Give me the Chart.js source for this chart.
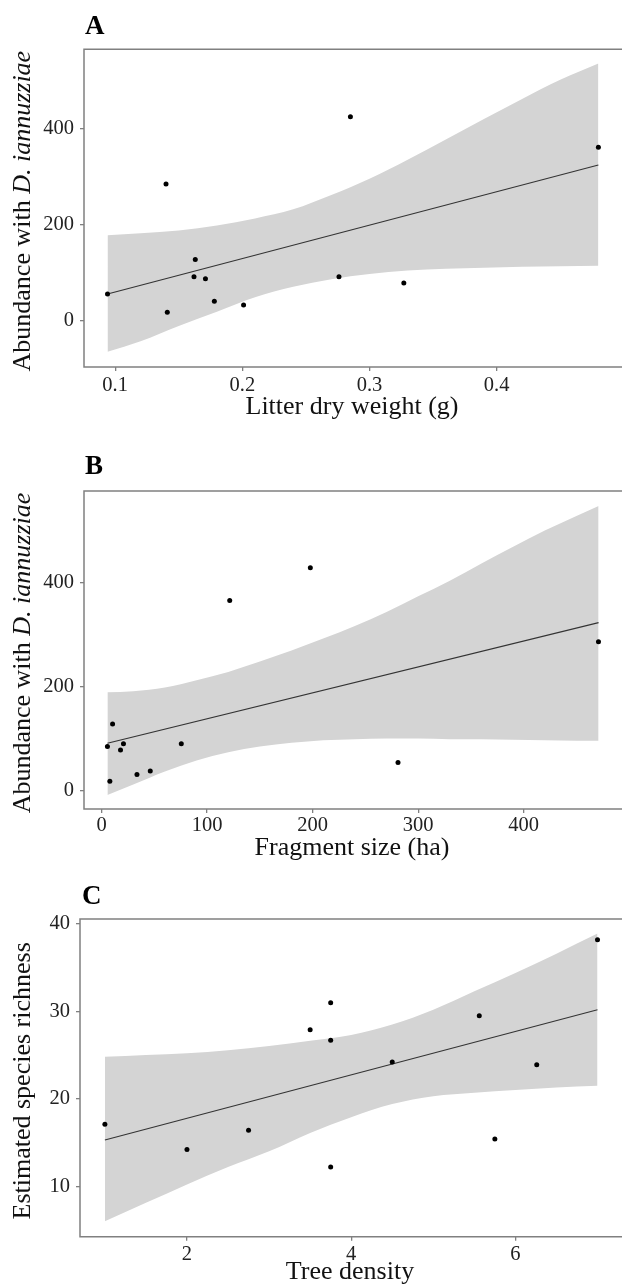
<!DOCTYPE html>
<html>
<head>
<meta charset="utf-8">
<script src="https://cdn.jsdelivr.net/npm/chart.js@4.4.1/dist/chart.umd.min.js"></script>
<style>
  body { margin: 0; background: #fff; }
  #wrap { position: relative; width: 624px; height: 1288px; overflow: hidden; background: #fff; }
  canvas { position: absolute; left: 0; }
  .tag { position: absolute; font: bold 27px "Liberation Serif", "Times New Roman", serif; line-height: 27px; color: #000; }
</style>
</head>
<body>
<div id="wrap">
  <canvas id="chartA" width="624" height="430" style="top:0px;width:624px;height:430px"></canvas>
  <canvas id="chartB" width="624" height="445" style="top:430px;width:624px;height:445px"></canvas>
  <canvas id="chartC" width="624" height="413" style="top:875px;width:624px;height:413px"></canvas>
  <div class="tag" style="left:85px;top:12px">A</div>
  <div class="tag" style="left:85px;top:452px">B</div>
  <div class="tag" style="left:82px;top:882px">C</div>
</div>
<script>
const FONT = '"Liberation Serif", "Times New Roman", serif';

// Panel A - litter dry weight
const litterWeight = [0.094, 0.140, 0.141, 0.162, 0.163, 0.171, 0.178, 0.201, 0.276, 0.285, 0.327, 0.480];
const abundanceA = [55, 285, 17, 91, 127, 87, 40, 32, 91, 426, 78, 362];
const fitA_x = [0.094, 0.48];
const fitA_y = [55, 325];
const bandA_x = [0.094, 0.12, 0.15, 0.18, 0.21, 0.24, 0.27, 0.30, 0.33, 0.36, 0.39, 0.42, 0.45, 0.48];
const bandA_hi = [178, 182, 188, 198, 213, 232, 262, 296, 336, 378, 421, 463, 503, 537];
const bandA_lo = [-66, -44, -12, 18, 48, 70, 86, 97, 104, 108, 110, 112, 113, 114];
const ticksA_x = [0.1, 0.2, 0.3, 0.4];
const labelsA_x = ['0.1', '0.2', '0.3', '0.4'];
const ticksA_y = [0, 200, 400];
const labelsA_y = ['0', '200', '400'];

// Panel B - fragment size
const fragmentSize = [5.5, 7.8, 10.4, 17.9, 20.7, 33.5, 46.1, 75.5, 121.4, 197.8, 280.9, 470.9];
const abundanceB = [85, 18, 128, 78, 90, 31, 38, 90, 365, 428, 54, 286];
const fitB_x = [5.5, 471];
const fitB_y = [91, 322.5];
const bandB_x = [5.5, 30, 60, 90, 120, 150, 180, 210, 240, 270, 300, 330, 360, 390, 420, 450, 471];
const bandB_hi = [189, 191, 198, 212, 228, 248, 269, 292, 316, 343, 373, 403, 436, 468, 499, 527, 546];
const bandB_lo = [-8, 12, 37, 58, 74, 85, 92, 97, 99, 100, 100, 99, 99, 98, 97, 96, 96];
const ticksB_x = [0, 100, 200, 300, 400];
const labelsB_x = ['0', '100', '200', '300', '400'];
const ticksB_y = [0, 200, 400];
const labelsB_y = ['0', '200', '400'];

// Panel C - tree density
const treeDensity = [1.0, 2.0, 2.75, 3.5, 3.75, 3.75, 3.75, 4.5, 5.56, 5.75, 6.26, 7.0];
const richness = [17.1, 14.2, 16.4, 27.9, 31.0, 26.7, 12.2, 24.2, 29.5, 15.4, 23.9, 38.2];
const fitC_x = [1.0, 7.0];
const fitC_y = [15.3, 30.2];
const bandC_x = [1.0, 1.5, 2.0, 2.5, 3.0, 3.5, 4.0, 4.5, 5.0, 5.5, 6.0, 6.5, 7.0];
const bandC_hi = [24.8, 25.0, 25.2, 25.55, 26.05, 26.65, 27.3, 28.5, 30.2, 32.3, 34.4, 36.6, 38.9];
const bandC_lo = [6.0, 8.1, 10.2, 12.2, 14.0, 16.1, 17.9, 19.4, 20.3, 20.7, 21.0, 21.3, 21.5];
const ticksC_x = [2, 4, 6];
const labelsC_x = ['2', '4', '6'];
const ticksC_y = [10, 20, 30, 40];
const labelsC_y = ['10', '20', '30', '40'];

function pts(xs, ys) {
  return xs.map((x, i) => ({ x: x, y: ys[i] }));
}

// plot frame (no right edge, it is cut by the picture) + y title with italic part
const frame = {
  id: 'frame',
  afterDraw(chart, args, opts) {
    const ctx = chart.ctx;
    const a = chart.chartArea;
    ctx.save();
    ctx.strokeStyle = '#808080';
    ctx.lineWidth = 1.5;
    ctx.beginPath();
    ctx.moveTo(a.right + 2, a.top);
    ctx.lineTo(a.left, a.top);
    ctx.lineTo(a.left, a.bottom);
    ctx.lineTo(a.right + 2, a.bottom);
    ctx.stroke();

    const parts = opts.parts || [];
    ctx.translate(opts.x, (a.top + a.bottom) / 2 + 3);
    ctx.rotate(-Math.PI / 2);
    ctx.textBaseline = 'middle';
    ctx.textAlign = 'left';
    ctx.fillStyle = '#111';
    let total = 0;
    parts.forEach(p => {
      ctx.font = (p.italic ? 'italic ' : '') + '26px ' + FONT;
      total += ctx.measureText(p.text).width;
    });
    let pos = -total / 2;
    parts.forEach(p => {
      ctx.font = (p.italic ? 'italic ' : '') + '26px ' + FONT;
      ctx.fillText(p.text, pos, 0);
      pos += ctx.measureText(p.text).width;
    });
    ctx.restore();
  }
};

function makePanel(id, p) {
  return new Chart(document.getElementById(id), {
    type: 'scatter',
    data: {
      datasets: [
        { data: pts(p.x, p.y), backgroundColor: '#000', borderColor: '#000', pointRadius: 2.5, borderWidth: 0, order: 1 },
        { data: pts(p.fitX, p.fitY), showLine: true, borderColor: '#333', borderWidth: 1.1, pointRadius: 0, order: 2 },
        { data: pts(p.bandX, p.bandHi), showLine: true, borderColor: 'rgba(0,0,0,0)', borderWidth: 0, pointRadius: 0,
          fill: '+1', backgroundColor: '#d4d4d4', cubicInterpolationMode: 'monotone', order: 3 },
        { data: pts(p.bandX, p.bandLo), showLine: true, borderColor: 'rgba(0,0,0,0)', borderWidth: 0, pointRadius: 0,
          fill: false, cubicInterpolationMode: 'monotone', order: 3 }
      ]
    },
    options: {
      responsive: false,
      animation: false,
      events: [],
      layout: { padding: { top: p.top, left: 0, right: 0, bottom: 0 } },
      plugins: {
        legend: { display: false },
        tooltip: { enabled: false },
        filler: { drawTime: 'beforeDatasetsDraw' },
        frame: { parts: p.yTitle, x: 23 }
      },
      scales: {
        x: {
          type: 'linear',
          min: p.xMin,
          max: p.xMax,
          afterFit: s => { s.height = p.xHeight; },
          afterBuildTicks: s => { s.ticks = p.xTicks.map(v => ({ value: v })); },
          border: { display: false },
          grid: { drawOnChartArea: false, drawTicks: true, tickLength: 4, color: '#808080', lineWidth: 1.3 },
          ticks: {
            callback: (v, i) => p.xLabels[i],
            font: { family: FONT, size: 20.5 },
            color: '#222',
            padding: p.xTickPad,
            maxRotation: 0,
            autoSkip: false
          },
          title: {
            display: true,
            text: p.xTitle,
            font: { family: FONT, size: 26 },
            color: '#111',
            padding: { top: 0, bottom: p.xTitlePad }
          }
        },
        y: {
          type: 'linear',
          min: p.yMin,
          max: p.yMax,
          afterFit: s => { s.width = p.yWidth; },
          afterBuildTicks: s => { s.ticks = p.yTicks.map(v => ({ value: v })); },
          border: { display: false },
          grid: { drawOnChartArea: false, drawTicks: true, tickLength: 4, color: '#808080', lineWidth: 1.3 },
          ticks: {
            callback: (v, i) => p.yLabels[i],
            font: { family: FONT, size: 20.5 },
            color: '#222',
            padding: 6,
            autoSkip: false
          }
        }
      }
    },
    plugins: [frame]
  });
}

const abundanceTitle = [{ text: 'Abundance with ' }, { text: 'D. iannuzziae', italic: true }];

makePanel('chartA', {
  x: litterWeight, y: abundanceA, fitX: fitA_x, fitY: fitA_y,
  bandX: bandA_x, bandHi: bandA_hi, bandLo: bandA_lo,
  xMin: 0.0755, xMax: 0.497, yMin: -97.8, yMax: 566.9,
  xTicks: ticksA_x, xLabels: labelsA_x, yTicks: ticksA_y, yLabels: labelsA_y,
  xTitle: 'Litter dry weight (g)', yTitle: abundanceTitle,
  top: 49.3, xHeight: 63, yWidth: 84, xTickPad: 2, xTitlePad: 7
});

makePanel('chartB', {
  x: fragmentSize, y: abundanceB, fitX: fitB_x, fitY: fitB_y,
  bandX: bandB_x, bandHi: bandB_hi, bandLo: bandB_lo,
  xMin: -16.7, xMax: 491.3, yMin: -35, yMax: 575,
  xTicks: ticksB_x, xLabels: labelsB_x, yTicks: ticksB_y, yLabels: labelsB_y,
  xTitle: 'Fragment size (ha)', yTitle: abundanceTitle,
  top: 61, xHeight: 66, yWidth: 84, xTickPad: 0, xTitlePad: 11
});

makePanel('chartC', {
  x: treeDensity, y: richness, fitX: fitC_x, fitY: fitC_y,
  bandX: bandC_x, bandHi: bandC_hi, bandLo: bandC_lo,
  xMin: 0.697, xMax: 7.274, yMin: 4.23, yMax: 40.57,
  xTicks: ticksC_x, xLabels: labelsC_x, yTicks: ticksC_y, yLabels: labelsC_y,
  xTitle: 'Tree density', yTitle: [{ text: 'Estimated species richness' }],
  top: 44, xHeight: 51.3, yWidth: 80, xTickPad: 2, xTitlePad: 0
});
</script>
</body>
</html>
